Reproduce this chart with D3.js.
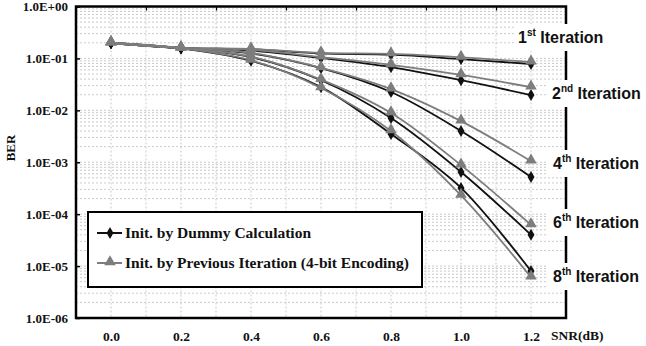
<!DOCTYPE html>
<html><head><meta charset="utf-8">
<script src="https://cdn.jsdelivr.net/npm/d3@7/dist/d3.min.js"></script>
<style>
html,body{margin:0;padding:0;background:#fff;}
svg{display:block;}
</style></head>
<body>
<svg id="chart" width="646" height="346"></svg>
<script>
// ---- data ----
const snr = [0.0, 0.2, 0.4, 0.6, 0.8, 1.0, 1.2];
const xTickLabels = ["0.0", "0.2", "0.4", "0.6", "0.8", "1.0", "1.2"];
const yTickValues = [1, 1e-1, 1e-2, 1e-3, 1e-4, 1e-5, 1e-6];
const yTickLabels = ["1.0E+00", "1.0E-01", "1.0E-02", "1.0E-03", "1.0E-04", "1.0E-05", "1.0E-06"];
const iterNums = ["1", "2", "4", "6", "8"];
const iterSups = ["st", "nd", "th", "th", "th"];

const dummy1 = [0.198, 0.160, 0.150, 0.125, 0.118, 0.097, 0.078];
const prev1  = [0.198, 0.160, 0.152, 0.128, 0.122, 0.105, 0.085];
const dummy2 = [0.198, 0.158, 0.142, 0.102, 0.068, 0.038, 0.0197];
const prev2  = [0.198, 0.160, 0.146, 0.106, 0.075, 0.048, 0.028];
const dummy4 = [0.198, 0.157, 0.125, 0.065, 0.0225, 0.0040, 0.00052];
const prev4  = [0.198, 0.158, 0.127, 0.066, 0.0257, 0.0062, 0.00105];
const dummy6 = [0.198, 0.157, 0.106, 0.038, 0.0071, 0.00065, 0.000040];
const prev6  = [0.198, 0.158, 0.108, 0.039, 0.0089, 0.00088, 0.000062];
const dummy8 = [0.198, 0.156, 0.090, 0.028, 0.0035, 0.00032, 0.0000080];
const prev8  = [0.198, 0.157, 0.092, 0.027, 0.0040, 0.00023, 0.0000061];

const legendLabels = ["Init. by Dummy Calculation", "Init. by Previous Iteration (4-bit Encoding)"];

const dummySeries = [dummy1, dummy2, dummy4, dummy6, dummy8];
const prevSeries = [prev1, prev2, prev4, prev6, prev8];

// ---- layout ----
const L = 76, R = 566, T = 6.5, B = 318;
const svg = d3.select("#chart");
const x = d3.scaleLinear().domain([-0.1, 1.3]).range([L, R]);
const y = d3.scaleLog().domain([1, 1e-6]).range([T, B]);
const serif = "'Liberation Serif','Times New Roman',serif";
const sans = "'Liberation Sans',Arial,sans-serif";
const BLACK = "#111", GRAY = "#7d7d7d";

// grid
const grid = svg.append("g");
const minorY = [];
for (let e = 0; e > -6; e--) for (let m = 1; m <= 9; m++) minorY.push(m * Math.pow(10, e - 1));
grid.selectAll("line.h").data(minorY.filter(v => v < 1 && v > 1e-6)).join("line")
  .attr("x1", L).attr("x2", R).attr("y1", d => y(d)).attr("y2", d => y(d))
  .attr("stroke", "#bdbdbd").attr("stroke-width", 0.8).attr("stroke-dasharray", "2,2");
const vx = d3.range(0, 13).map(i => i / 10);
grid.selectAll("line.v").data(vx).join("line")
  .attr("x1", d => x(d)).attr("x2", d => x(d)).attr("y1", T).attr("y2", B)
  .attr("stroke", "#bdbdbd").attr("stroke-width", 0.8).attr("stroke-dasharray", "2,2");

// axes
const yAxis = svg.append("g").attr("transform", `translate(${L},0)`)
  .call(d3.axisLeft(y).tickValues(yTickValues).tickSizeInner(-4).tickSizeOuter(0).tickPadding(8)
    .tickFormat((d, i) => yTickLabels[i]));
yAxis.select(".domain").remove();
yAxis.selectAll("line").attr("stroke", "#000").attr("stroke-width", 1.5);
yAxis.selectAll("text").attr("font-family", serif).attr("font-weight", "bold").attr("font-size", 13).attr("fill", "#111");

const xAxis = svg.append("g").attr("transform", `translate(0,${B})`)
  .call(d3.axisBottom(x).tickValues(snr).tickSize(0).tickPadding(13).tickFormat((d, i) => xTickLabels[i]));
xAxis.select(".domain").remove();
xAxis.selectAll("text").attr("font-family", serif).attr("font-weight", "bold").attr("font-size", 13.5).attr("fill", "#111");

const topAxis = svg.append("g").attr("transform", `translate(0,${T})`)
  .call(d3.axisTop(x).tickValues([0.1, 0.3, 0.5, 0.7, 0.9, 1.1]).tickSizeInner(-4).tickSizeOuter(0).tickFormat(""));
topAxis.select(".domain").remove();
topAxis.selectAll("line").attr("stroke", "#000").attr("stroke-width", 1.2);

// axis titles
svg.append("text").attr("transform", `translate(15,148) rotate(-90)`)
  .attr("text-anchor", "middle").attr("font-family", serif).attr("font-weight", "bold")
  .attr("font-size", 13).attr("fill", "#111").text("BER");
svg.append("text").attr("x", 551).attr("y", 340)
  .attr("font-family", serif).attr("font-weight", "bold").attr("font-size", 13.5).attr("fill", "#111").text("SNR(dB)");

// series
const line = d3.line().x((d, i) => x(snr[i])).y(d => y(d)).curve(d3.curveCatmullRom.alpha(0.5));
const diamond = d3.symbol().type(d3.symbolDiamond).size(42);
const tri = d3.symbol().type(d3.symbolTriangle).size(58);
const plot = svg.append("g");
dummySeries.forEach(s => {
  plot.append("path").attr("d", line(s)).attr("fill", "none").attr("stroke", BLACK).attr("stroke-width", 1.8);
});
prevSeries.forEach(s => {
  plot.append("path").attr("d", line(s)).attr("fill", "none").attr("stroke", GRAY).attr("stroke-width", 1.8);
});
dummySeries.forEach(s => {
  plot.selectAll(null).data(s).join("path").attr("d", diamond)
    .attr("transform", (d, i) => `translate(${x(snr[i])},${y(d)})`).attr("fill", BLACK);
});
prevSeries.forEach(s => {
  plot.selectAll(null).data(s).join("path").attr("d", tri)
    .attr("transform", (d, i) => `translate(${x(snr[i])},${y(d) - 1})`).attr("fill", GRAY);
});

// frame
svg.append("rect").attr("x", L).attr("y", T).attr("width", R - L).attr("height", B - T)
  .attr("fill", "none").attr("stroke", "#000").attr("stroke-width", 2.5);

// iteration labels
const labelPos = [[518, 43], [552, 99], [553, 169], [553, 228], [553, 282]];
labelPos.forEach((p, i) => {
  const bx = i === 0 ? 514 : 547;
  svg.append("rect").attr("x", bx).attr("y", p[1] - 19).attr("width", 646 - bx).attr("height", 27).attr("fill", "#fff");
  const t = svg.append("text").attr("x", p[0]).attr("y", p[1]).attr("font-family", sans)
    .attr("font-weight", "bold").attr("font-size", 16).attr("fill", "#111");
  t.append("tspan").text(iterNums[i]);
  t.append("tspan").attr("font-size", 10).attr("dy", -7).text(iterSups[i]);
  t.append("tspan").attr("dy", 7).text(" Iteration");
});

// legend
const lg = svg.append("g");
lg.append("rect").attr("x", 88).attr("y", 212).attr("width", 334).attr("height", 75)
  .attr("fill", "#fff").attr("stroke", "#000").attr("stroke-width", 2);
const rows = [{y: 233, c: BLACK, s: diamond}, {y: 263, c: GRAY, s: tri}];
rows.forEach((r, i) => {
  lg.append("line").attr("x1", 97).attr("x2", 122).attr("y1", r.y).attr("y2", r.y)
    .attr("stroke", r.c).attr("stroke-width", 2);
  lg.append("path").attr("d", r.s).attr("transform", `translate(110,${r.y - (i ? 1 : 0)})`).attr("fill", r.c);
  lg.append("text").attr("x", 125).attr("y", r.y + 5).attr("font-family", serif).attr("font-weight", "bold")
    .attr("font-size", 15.5).attr("fill", "#111").text(legendLabels[i]);
});
</script>
</body></html>
